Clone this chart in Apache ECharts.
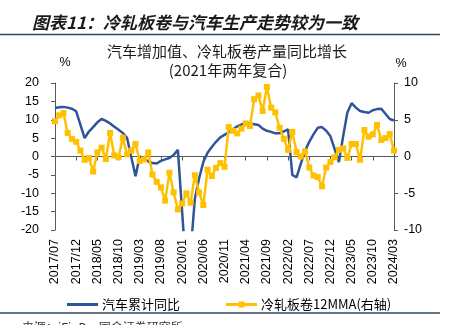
<!DOCTYPE html>
<html>
<head>
<meta charset="utf-8">
<script src="https://cdn.jsdelivr.net/npm/echarts@6/dist/echarts.min.js"></script>
<style>
  html, body { margin: 0; padding: 0; background: #fff; }
  #chart { width: 454px; height: 325px; }
</style>
</head>
<body>
<div id="chart"></div>
<script>
// Months on the category axis (2017/07 – 2024/03)
const months = [
  '2017/07','2017/08','2017/09','2017/10','2017/11','2017/12',
  '2018/01','2018/02','2018/03','2018/04','2018/05','2018/06','2018/07','2018/08','2018/09','2018/10','2018/11','2018/12',
  '2019/01','2019/02','2019/03','2019/04','2019/05','2019/06','2019/07','2019/08','2019/09','2019/10','2019/11','2019/12',
  '2020/01','2020/02','2020/03','2020/04','2020/05','2020/06','2020/07','2020/08','2020/09','2020/10','2020/11','2020/12',
  '2021/01','2021/02','2021/03','2021/04','2021/05','2021/06','2021/07','2021/08','2021/09','2021/10','2021/11','2021/12',
  '2022/01','2022/02','2022/03','2022/04','2022/05','2022/06','2022/07','2022/08','2022/09','2022/10','2022/11','2022/12',
  '2023/01','2023/02','2023/03','2023/04','2023/05','2023/06','2023/07','2023/08','2023/09','2023/10','2023/11','2023/12',
  '2024/01','2024/02','2024/03'
];

// 汽车累计同比 (%), left axis; January has no cumulative reading
const autoCumYoY = [
  13.2, 13.4, 13.5, 13.3, 13.0, 12.3,
  null, 5.0, 6.8, 8.0, 9.3, 10.2, 9.7, 9.0, 8.1, 7.3, 6.4, 5.1,
  null, -5.4, 0.0, -0.6, -1.3, -1.8, -1.9, -1.2, -0.8, -0.4, 0.4, 1.8,
  null, -31.8, -26.0, -11.5, -6.0, -1.5, 1.0, 2.6, 4.0, 5.2, 5.9, 6.6,
  null, 8.2, 8.7, 9.1, 9.0, 8.8, 8.6, 7.6, 7.0, 6.7, 6.3, 6.3,
  null, 7.4, -5.0, -5.7, -2.0, 1.5, 4.0, 6.0, 7.8, 8.0, 7.0, 5.5,
  null, -1.5, 5.5, 12.0, 14.5, 13.3, 12.4, 12.1, 11.9, 12.6, 12.9, 13.0,
  null, 10.2, 9.8
];

// 冷轧板卷12MMA (%), right axis
const coldRolled12MMA = [
  4.8, 5.6, 5.9, 3.2, 2.4, 2.0,
  0.8, -0.45, -0.2, -2.05, 0.55, 1.2, -0.35, 3.2, 0.15, -0.1, 2.55, 0.3,
  0.8, 1.7, -0.6, -0.4, 0.55, -2.45, -3.45, -4.2, -6.0, -2.2, -4.9, -7.2,
  -6.4, -5.0, -6.3, -2.55, -4.9, -6.6, -1.8, -2.65, -1.55, -0.9, -1.4, 4.0,
  3.5, 3.15, 3.8, 4.5, 4.15, 7.8, 8.3, 6.2, 9.45, 6.65, 6.0, 3.9,
  2.4, 0.9, 3.35, 0.6, 0.0, 0.7, -1.5, -2.6, -2.8, -4.05, -1.5, -0.75,
  -0.1, 0.9, 1.1, -0.2, 1.7, 1.7, -0.45, 3.6, 2.7, 3.0, 4.3, 2.25,
  2.5, 3.05, 0.8
];

const leftTicks = { min: -20, max: 20, step: 5 };
const rightTicks = { min: -10, max: 10, step: 5 };

const latin = "'Liberation Sans', Arial, 'Noto Sans CJK SC', sans-serif";
const cjk = "'Noto Sans CJK SC', 'Liberation Sans', sans-serif";

const BLUE = '#2E5597';
const GOLD = '#FFC000';
const axisGray = '#595959';

// Legend glyphs: a plain stroke, and a stroke with a square marker.
// Tiny corner specks pin the path box to 31x8 so the stroke keeps its thickness.
const pin = 'M0,0H0.01V0.01H0Z M30.99,7.99H31V8H30.99Z ';
const lineIcon = 'path://' + pin + 'M0,2.6H31V5.4H0Z';
const markerIcon = 'path://' + pin + 'M0,2.6H31V5.4H0Z M12.5,1H18.5V7H12.5Z';

const chart = echarts.init(document.getElementById('chart'), null, { renderer: 'canvas' });

chart.setOption({
  animation: false,
  backgroundColor: '#ffffff',
  textStyle: { fontFamily: latin },
  grid: { left: 55, right: 60, top: 83, bottom: 95 },
  xAxis: [
    {
      type: 'category',
      data: months,
      boundaryGap: false,
      position: 'bottom',
      axisLine: { show: false, onZero: false },
      axisTick: { show: false },
      axisLabel: {
        interval: 4,
        rotate: 90,
        margin: 9,
        fontSize: 12.5,
        color: '#000',
        fontFamily: latin
      },
      splitLine: { show: false }
    },
    {
      type: 'category',
      data: months,
      boundaryGap: false,
      position: 'bottom',
      axisLine: { show: true, onZero: true, lineStyle: { color: axisGray, width: 1 } },
      axisTick: { show: true, interval: 4, length: 4, lineStyle: { color: axisGray } },
      axisLabel: { show: false },
      splitLine: { show: false }
    }
  ],
  yAxis: [
    {
      type: 'value',
      min: leftTicks.min, max: leftTicks.max, interval: leftTicks.step,
      position: 'left',
      axisLine: { show: true, lineStyle: { color: axisGray } },
      axisTick: { show: true, length: 4, lineStyle: { color: axisGray } },
      axisLabel: { fontSize: 12.5, color: '#000', margin: 16, fontFamily: latin },
      splitLine: { show: false }
    },
    {
      type: 'value',
      min: rightTicks.min, max: rightTicks.max, interval: rightTicks.step,
      position: 'right',
      axisLine: { show: true, lineStyle: { color: axisGray } },
      axisTick: { show: true, length: 4, lineStyle: { color: axisGray } },
      axisLabel: { fontSize: 12.5, color: '#000', margin: 10, fontFamily: latin },
      splitLine: { show: false }
    }
  ],
  legend: {
    left: 67,
    top: 298,
    padding: 0,
    itemGap: 46,
    itemWidth: 31,
    itemHeight: 8,
    textStyle: { fontSize: 13, color: '#000', fontFamily: cjk, padding: [0, 0, 0, -1] },
    data: [
      { name: '汽车累计同比', icon: lineIcon, itemStyle: { color: BLUE } },
      { name: '冷轧板卷12MMA(右轴)', icon: markerIcon, itemStyle: { color: GOLD } }
    ]
  },
  series: [
    {
      name: '汽车累计同比',
      type: 'line',
      data: autoCumYoY,
      xAxisIndex: 0,
      yAxisIndex: 0,
      connectNulls: true,
      showSymbol: false,
      symbol: 'none',
      lineStyle: { color: BLUE, width: 2.5 },
      itemStyle: { color: BLUE },
      z: 3
    },
    {
      name: '冷轧板卷12MMA(右轴)',
      type: 'line',
      data: coldRolled12MMA,
      xAxisIndex: 0,
      yAxisIndex: 1,
      symbol: 'rect',
      symbolSize: 6,
      showAllSymbol: true,
      lineStyle: { color: GOLD, width: 2.5 },
      itemStyle: { color: GOLD },
      z: 4
    }
  ],
  graphic: [
    {
      type: 'text', left: 32, top: 14,
      style: {
        text: '图表11：冷轧板卷与汽车生产走势较为一致',
        font: 'italic bold 17px ' + cjk,
        fill: '#1a1a1a'
      }
    },
    {
      type: 'line', shape: { x1: 0, y1: 34.5, x2: 440, y2: 34.5 },
      style: { stroke: '#2F4560', lineWidth: 1.5 }
    },
    {
      type: 'text', x: 227, y: 51,
      style: {
        text: '汽车增加值、冷轧板卷产量同比增长',
        font: '15px ' + cjk, fill: '#1a1a1a',
        textAlign: 'center', textVerticalAlign: 'middle'
      }
    },
    {
      type: 'text', x: 228, y: 70,
      style: {
        text: '(2021年两年复合)',
        font: '15px ' + cjk, fill: '#1a1a1a',
        textAlign: 'center', textVerticalAlign: 'middle'
      }
    },
    {
      type: 'text', x: 65, y: 63,
      style: { text: '%', font: '12.5px ' + latin, fill: '#000', textAlign: 'center', textVerticalAlign: 'middle' }
    },
    {
      type: 'text', x: 401, y: 64,
      style: { text: '%', font: '12.5px ' + latin, fill: '#000', textAlign: 'center', textVerticalAlign: 'middle' }
    },
    {
      type: 'line', shape: { x1: 0, y1: 313, x2: 440, y2: 313 },
      style: { stroke: '#2F4560', lineWidth: 1.5 }
    },
    {
      type: 'text', left: 22, top: 321,
      style: { text: '来源：iFinD，国金证券研究所', font: '12px ' + cjk, fill: '#333' }
    }
  ]
});
</script>
</body>
</html>
